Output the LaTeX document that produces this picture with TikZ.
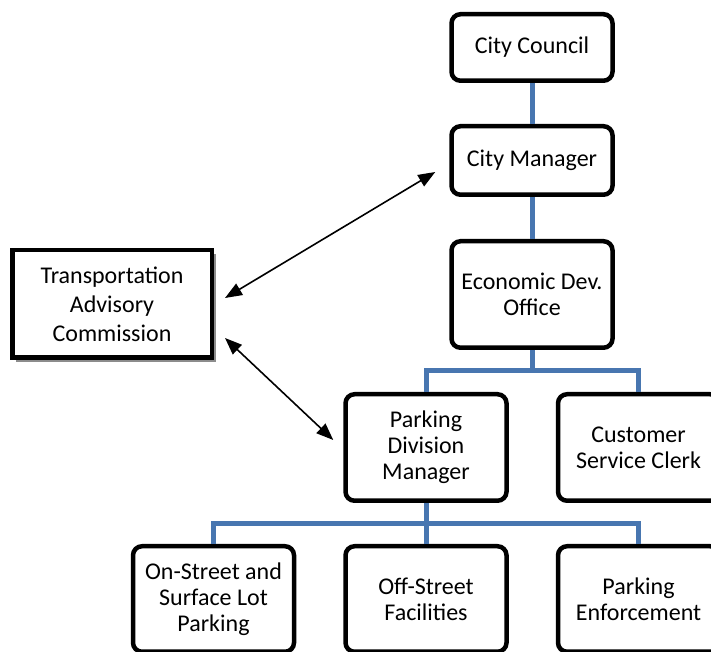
\documentclass[tikz,border=0pt]{standalone}
\usepackage{fontspec}
\setmainfont{Carlito}
\usepackage{xcolor}
\usepackage{tikz}
\usetikzlibrary{arrows.meta, shadows}

\definecolor{linkblue}{RGB}{72,118,176}
\tikzset{
    unit/.style={draw, line width=4.5pt, rounded corners=9pt, fill=white,
        align=center, inner sep=0pt, minimum width=161pt,
        font=\fontsize{24}{26}\selectfont},
    board/.style={draw, line width=4.5pt, fill=white, align=center, inner sep=0pt,
        minimum width=199.5pt, minimum height=107.5pt,
        font=\fontsize{24}{29}\selectfont,
        drop shadow={shadow xshift=4pt, shadow yshift=-4pt, fill=black!45, opacity=1}},
    link/.style={draw=linkblue, line width=5pt},
    both/.style={{Triangle[length=17pt,width=13pt]}-{Triangle[length=17pt,width=13pt]}, line width=1.6pt}
}

\begin{document}
\begin{tikzpicture}[x=1pt, y=1pt]
        \useasboundingbox (0,0) rectangle (711,652);

        \node[unit, minimum height=66.5pt] (cc) at (532,604.5) {City Council};
        \node[unit, minimum height=68.5pt] (cm) at (532,491.5) {City Manager};
        \node[unit, minimum height=106.5pt] (eco) at (532,357.5) {Economic Dev.\\Office};
        \node[unit, minimum height=106.5pt] (pdm) at (426,204.5) {Parking\\Division\\Manager};
        \node[unit, minimum height=106.5pt] (csc) at (638.5,204.5) {Customer\\Service Clerk};
        \node[unit, minimum height=105.5pt] (osl) at (213.5,53) {On-Street and\\Surface Lot\\Parking};
        \node[unit, minimum height=105.5pt] (osf) at (426,53) {Off-Street\\Facilities};
        \node[unit, minimum height=105.5pt] (pe) at (638.5,53) {Parking\\Enforcement};
        \node[board] (tac) at (112,348) {Transportation\\Advisory\\Commission};

        % CC -> CM -> ECO
        \draw[link] (cc) -- (cm);
        \draw[link] (cm) -- (eco);

        % ECO -> PDM, CSC
        \coordinate (ecobar) at (532,281);
        \draw[link] (eco) -- (ecobar);
        \draw[link] (pdm.north) |- (ecobar) -| (csc.north);

        % PDM -> OSL, OSF, PE
        \coordinate (pdmbar) at (426,128);
        \draw[link] (pdm) -- (osf);
        \draw[link] (osl.north) |- (pdmbar) -| (pe.north);

        % TAC <-> CM, PDM
        \draw[both] ([xshift=11pt,yshift=6pt]tac.east) -- ([xshift=-14pt,yshift=-11.5pt]cm.west);
        \draw[both] ([xshift=11pt,yshift=-34pt]tac.east) -- ([xshift=-10pt,yshift=7.5pt]pdm.west);
    \end{tikzpicture}
\end{document}
